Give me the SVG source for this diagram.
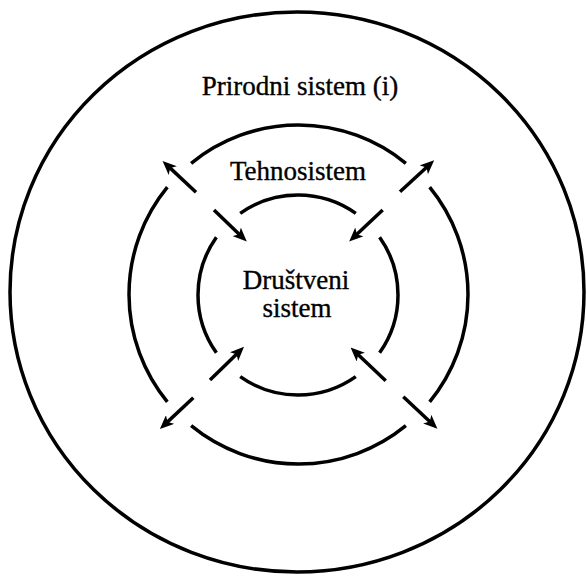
<svg xmlns="http://www.w3.org/2000/svg" width="587" height="577" viewBox="0 0 587 577">
  <style>
    .ring { fill: none; stroke: #000; stroke-width: 3.5; }
    .arc { fill: none; stroke: #000; stroke-width: 3.5; stroke-linecap: butt; }
    .arr { fill: none; stroke: #000; stroke-width: 3.5; marker-end: url(#ah); }
    .lbl { font-family: "Liberation Serif", "Times New Roman", serif; font-size: 27px; fill: #000; stroke: #000; stroke-width: 0.35; text-anchor: middle; }
  </style>
  <defs>
    <marker id="ah" viewBox="0 0 14 12" refX="6" refY="6" markerWidth="14" markerHeight="12" markerUnits="userSpaceOnUse" orient="auto">
      <path d="M0,0 L14,6 L0,12 L3.5,6 z" fill="#000"/>
    </marker>
  </defs>
  <rect width="587" height="577" fill="#fff"/>

  <g id="prirodni">
    <ellipse class="ring" cx="297" cy="292" rx="287" ry="280"/>
    <text class="lbl" x="300" y="95">Prirodni sistem (i)</text>
  </g>

  <g id="tehnosistem">
    <path class="arc" d="M429.66,187.14 A169.5,169.5 0 0 1 429.66,401.86"/>
    <path class="arc" d="M405.86,425.66 A169.5,169.5 0 0 1 191.14,425.66"/>
    <path class="arc" d="M167.34,401.86 A169.5,169.5 0 0 1 167.34,187.14"/>
    <path class="arc" d="M191.14,163.34 A169.5,169.5 0 0 1 405.86,163.34"/>
    <text class="lbl" x="298" y="180">Tehnosistem</text>
  </g>

  <g id="drustveni">
    <path class="arc" d="M379.61,237.21 A100,100 0 0 1 379.61,352.79"/>
    <path class="arc" d="M355.79,376.61 A100,100 0 0 1 240.21,376.61"/>
    <path class="arc" d="M216.39,352.79 A100,100 0 0 1 216.39,237.21"/>
    <path class="arc" d="M240.21,213.39 A100,100 0 0 1 355.79,213.39"/>
    <text class="lbl" x="296" y="289">Društveni</text>
    <text class="lbl" x="297" y="317">sistem</text>
  </g>

  <g id="connectors">
    <line class="arr" x1="196" y1="192.3" x2="168.4" y2="166.4"/>
    <line class="arr" x1="214" y1="210" x2="241" y2="236"/>
    <line class="arr" x1="400" y1="191.7" x2="428.3" y2="165.7"/>
    <line class="arr" x1="382.7" y1="210" x2="355" y2="236"/>
    <line class="arr" x1="210" y1="380" x2="238.3" y2="352.4"/>
    <line class="arr" x1="193.3" y1="397.7" x2="165.7" y2="423.6"/>
    <line class="arr" x1="385.7" y1="380.7" x2="356.4" y2="353"/>
    <line class="arr" x1="403.3" y1="396.7" x2="431.6" y2="423.3"/>
  </g>
</svg>
